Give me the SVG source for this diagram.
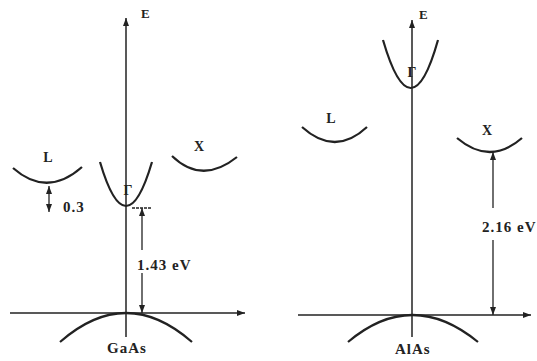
<svg xmlns="http://www.w3.org/2000/svg" width="537" height="361" viewBox="0 0 537 361">
<style>
.ax{stroke:#222;stroke-width:1.5;fill:none}
.band{stroke:#222;stroke-width:2.2;fill:none}
.dim{stroke:#222;stroke-width:1.3;fill:none}
text{font-family:"Liberation Serif","Times New Roman",serif;font-weight:bold;fill:#222}
.lab{font-size:15px;letter-spacing:1px}
.sym{font-size:14px;text-anchor:middle}
.e{font-size:13px}
</style>
<defs>
<marker id="ah" markerUnits="userSpaceOnUse" markerWidth="9" markerHeight="7" refX="8" refY="3" orient="auto-start-reverse">
<path d="M0,0 L8,3 L0,6 z" fill="#222"/>
</marker>
</defs>
<rect width="537" height="361" fill="#fff"/>
<g id="connectors">
<line class="ax" x1="10" y1="313" x2="245" y2="313" marker-end="url(#ah)"/>
<line class="ax" x1="126" y1="337" x2="126" y2="18" marker-end="url(#ah)"/>
<line class="ax" x1="298" y1="315" x2="531" y2="315" marker-end="url(#ah)"/>
<line class="ax" x1="412" y1="337" x2="412" y2="20" marker-end="url(#ah)"/>
<line class="dim" x1="49" y1="186" x2="49" y2="212" marker-start="url(#ah)" marker-end="url(#ah)"/>
<line class="dim" x1="132" y1="208" x2="151" y2="208" stroke-dasharray="3 1"/>
<line class="dim" x1="142" y1="208" x2="142" y2="250" marker-start="url(#ah)"/>
<line class="dim" x1="142" y1="273" x2="142" y2="313" marker-end="url(#ah)"/>
<line class="dim" x1="493" y1="152" x2="493" y2="208" marker-start="url(#ah)"/>
<line class="dim" x1="493" y1="240" x2="493" y2="315" marker-end="url(#ah)"/>
</g>
<g id="gaas-gamma"><path class="band" d="M100,162 Q126,250 152,162"/><text class="sym" x="128" y="195">Γ</text></g>
<g id="gaas-L"><path class="band" d="M13,168 Q47,198 82,167"/><text class="sym" x="48" y="162">L</text></g>
<g id="gaas-X"><path class="band" d="M172,156 Q202,185 237,157"/><text class="sym" x="199" y="151">X</text></g>
<g id="gaas-valence"><path class="band" d="M60,342 Q126,284 192,342"/></g>
<g id="gaas-labels">
<text class="e" x="141" y="18">E</text>
<text class="lab" x="63" y="212">0.3</text>
<text class="lab" x="137" y="270">1.43 eV</text>
<text class="lab" x="107" y="353">GaAs</text>
</g>
<g id="alas-gamma"><path class="band" d="M383,40 Q411,136 438,40"/><text class="sym" x="412" y="77">Γ</text></g>
<g id="alas-L"><path class="band" d="M302,127 Q335,157 367,127"/><text class="sym" x="331" y="123">L</text></g>
<g id="alas-X"><path class="band" d="M457,138 Q490,166 522,138"/><text class="sym" x="487" y="135">X</text></g>
<g id="alas-valence"><path class="band" d="M348,342 Q412,288 478,342"/></g>
<g id="alas-labels">
<text class="e" x="419" y="19">E</text>
<text class="lab" x="482" y="232">2.16 eV</text>
<text class="lab" x="395" y="354">AlAs</text>
</g>
</svg>
